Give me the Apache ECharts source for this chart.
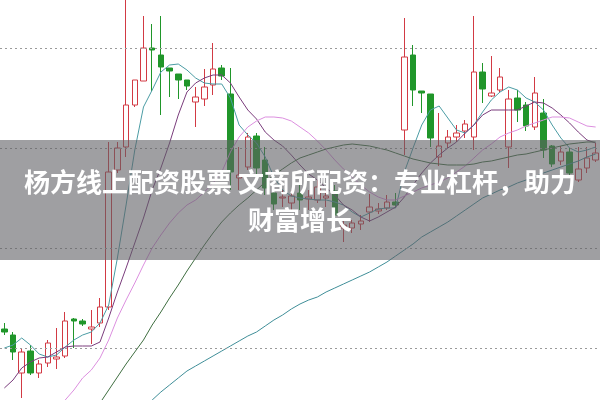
<!DOCTYPE html>
<html>
<head>
<meta charset="utf-8">
<script src="https://cdn.jsdelivr.net/npm/echarts@6/dist/echarts.min.js"></script>
<style>html,body{margin:0;padding:0;background:#fff;}#c{width:600px;height:400px;}</style>
</head>
<body>
<div id="c"></div>
<script>
// candle values: [open, close, low, high]
const candles = [
[10.19,10.16,10.13,10.25],[10.13,9.96,9.88,10.16],[9.75,9.96,9.50,10.00],[9.97,9.75,9.73,10.03],
[9.75,9.84,9.70,9.88],[9.85,10.05,9.81,10.08],[9.89,9.91,9.79,10.20],[9.92,10.27,9.90,10.36],
[10.29,10.27,10.00,10.30],[10.27,10.24,10.22,10.29],[10.19,10.21,10.04,10.38],[10.25,10.41,10.21,10.50],
[10.41,11.76,10.38,12.06],[11.78,12.00,11.75,12.06],[12.01,12.43,11.91,13.50],[12.43,12.68,12.41,12.68],
[12.67,13.00,12.67,13.32],[13.00,12.98,12.57,13.24],[12.93,12.81,12.33,13.32],[12.80,12.77,12.51,12.80],
[12.74,12.68,12.49,12.74],[12.68,12.62,12.58,12.68],[12.46,12.51,12.21,12.61],[12.49,12.61,12.42,12.79],
[12.63,12.79,12.53,13.05],[12.80,12.72,12.68,12.83],[12.54,11.76,11.58,12.80],[11.70,11.73,11.58,12.01],
[11.81,12.11,11.78,12.15],[12.12,11.80,11.66,12.15],[11.88,11.60,11.53,12.01],[11.55,11.44,11.38,11.60],
[11.50,11.51,11.41,11.58],[11.45,11.52,11.38,11.58],[11.55,11.48,11.38,11.64],[11.49,11.51,11.38,11.58],
[11.48,11.61,11.45,11.68],[11.50,11.52,11.41,11.58],[11.57,11.33,11.25,11.63],[11.20,11.23,11.06,11.28],
[11.20,11.25,11.15,11.28],[11.24,11.27,11.18,11.33],[11.36,11.41,11.26,11.54],[11.37,11.39,11.34,11.45],
[11.40,11.46,11.38,11.53],[11.46,11.43,11.40,11.55],[12.18,12.91,11.93,13.30],[12.93,12.58,12.42,13.03],
[12.57,12.55,12.35,12.57],[12.54,12.10,12.01,12.54],[11.91,12.02,11.82,12.35],[12.05,12.11,12.00,12.18],
[12.11,12.15,12.06,12.23],[12.17,12.24,12.10,12.28],[12.11,12.76,11.98,13.32],[12.76,12.59,12.45,12.85],
[12.52,12.55,12.51,12.92],[12.58,12.71,12.56,12.80],[12.01,12.49,11.80,12.58],[12.50,12.38,12.26,12.58],
[12.43,12.22,12.17,12.46],[12.21,12.55,12.18,12.71],[12.35,11.98,11.90,12.49],[12.02,11.84,11.81,12.03],
[11.87,11.96,11.83,12.02],[11.96,11.75,11.71,12.00],[11.68,11.79,11.66,12.01],[11.80,11.90,11.75,12.01],
[11.88,11.95,11.86,12.05]
];
const ma5 = [10.00,10.03,10.10,10.03,9.94,9.91,9.93,10.01,10.08,10.13,10.16,10.25,10.43,10.90,11.43,11.98,12.41,12.58,12.76,12.83,12.84,12.78,12.70,12.65,12.64,12.64,12.50,12.23,12.13,12.05,11.91,11.71,11.58,11.52,11.50,11.49,11.48,11.48,11.46,11.43,11.36,11.31,11.35,11.39,11.40,11.40,11.76,12.00,12.23,12.38,12.42,12.30,12.18,12.15,12.23,12.36,12.48,12.56,12.61,12.58,12.50,12.46,12.38,12.23,12.10,12.00,11.96,11.98,12.01];
const ma10 = [9.60,9.68,9.80,9.86,9.90,9.91,9.96,10.01,10.02,10.02,10.02,10.06,10.30,10.56,10.80,11.05,11.30,11.58,11.80,12.05,12.33,12.56,12.65,12.70,12.73,12.73,12.65,12.51,12.38,12.29,12.16,12.08,12.02,11.93,11.83,11.74,11.68,11.60,11.53,11.43,11.38,11.31,11.27,11.31,11.36,11.41,11.51,11.63,11.75,11.85,11.93,12.00,12.06,12.15,12.23,12.33,12.38,12.38,12.38,12.38,12.42,12.46,12.45,12.40,12.33,12.25,12.16,12.08,12.05];
const ma20 = [null,null,null,null,null,null,9.38,9.48,9.58,9.70,9.78,9.90,10.08,10.30,10.48,10.65,10.83,11.00,11.13,11.25,11.35,11.43,11.48,11.56,11.65,11.76,11.96,12.11,12.21,12.27,12.31,12.31,12.30,12.27,12.21,12.15,12.07,11.98,11.88,11.79,11.71,11.63,11.56,11.51,11.48,11.48,11.52,11.56,11.60,11.63,11.66,11.70,11.76,11.82,11.90,11.98,12.04,12.11,12.15,12.18,12.22,12.25,12.28,12.31,12.31,12.30,12.26,12.22,12.21];
const ma30 = [null,null,null,null,null,null,null,null,null,null,9.33,9.45,9.58,9.71,9.84,9.96,10.08,10.23,10.36,10.50,10.63,10.77,10.90,11.03,11.15,11.26,11.35,11.43,11.50,11.58,11.66,11.73,11.79,11.85,11.90,11.93,11.96,11.99,12.01,12.03,12.04,12.03,12.02,12.00,11.98,11.95,11.92,11.89,11.87,11.85,11.84,11.83,11.83,11.83,11.84,11.86,11.87,11.89,11.91,11.93,11.94,11.96,11.98,12.00,12.02,12.04,12.05,12.06,12.06];
const ma60 = [null,null,null,null,null,null,null,null,null,null,null,null,null,null,null,9.32,9.40,9.48,9.56,9.63,9.70,9.77,9.82,9.87,9.92,9.97,10.02,10.07,10.12,10.16,10.22,10.28,10.33,10.39,10.44,10.48,10.51,10.56,10.60,10.64,10.68,10.72,10.76,10.81,10.86,10.92,10.98,11.04,11.11,11.16,11.21,11.26,11.32,11.38,11.44,11.50,11.54,11.58,11.61,11.65,11.68,11.71,11.75,11.78,11.81,11.84,11.87,11.91,11.94];
const gridLevels = [10, 11, 12, 13];
const titleLines = ['杨方线上配资股票 文商所配资：专业杠杆，助力', '财富增长'];
const categories = candles.map((_, i) => String(i + 1));

const chart = echarts.init(document.getElementById('c'), null, {renderer: 'canvas'});
function maSeries(name, data, color) {
  return {name, type: 'line', data, symbol: 'none', smooth: false, connectNulls: false,
    lineStyle: {color, width: 1}, z: 3, silent: true};
}
chart.setOption({
  animation: false,
  grid: {left: -2, right: 0, top: 0, bottom: 0},
  xAxis: {type: 'category', data: categories, show: false, boundaryGap: true},
  yAxis: {type: 'value', min: 9.48, max: 13.48, show: false, splitLine: {show: false}, scale: true},
  series: [
    {type: 'candlestick', data: candles, barWidth: 6, z: 2,
      itemStyle: {color: '#ffffff', color0: '#20962a', borderColor: '#d23a44', borderColor0: '#20962a', borderWidth: 1},
      markLine: {silent: true, symbol: 'none', label: {show: false},
        lineStyle: {type: [2, 3], color: '#9a9a9a', width: 1},
        data: gridLevels.map(v => ({yAxis: v}))}
    },
    maSeries('MA5', ma5, '#4b9ca4'),
    maSeries('MA10', ma10, '#7a3c7c'),
    maSeries('MA20', ma20, '#dc8fdf'),
    maSeries('MA30', ma30, '#3f6e40'),
    maSeries('MA60', ma60, '#3f8e98')
  ],
  graphic: [
    {type: 'rect', z: 100, shape: {x: 0, y: 140, width: 600, height: 120},
      style: {fill: 'rgba(95,95,100,0.6)'}, silent: true},
    {type: 'text', z: 101, x: 300, y: 201, silent: true,
      style: {text: titleLines.join('\n'), fill: '#ffffff', align: 'center', verticalAlign: 'middle',
        font: 'bold 26px "Noto Sans CJK SC"', lineHeight: 38}}
  ]
});
</script>
</body>
</html>
